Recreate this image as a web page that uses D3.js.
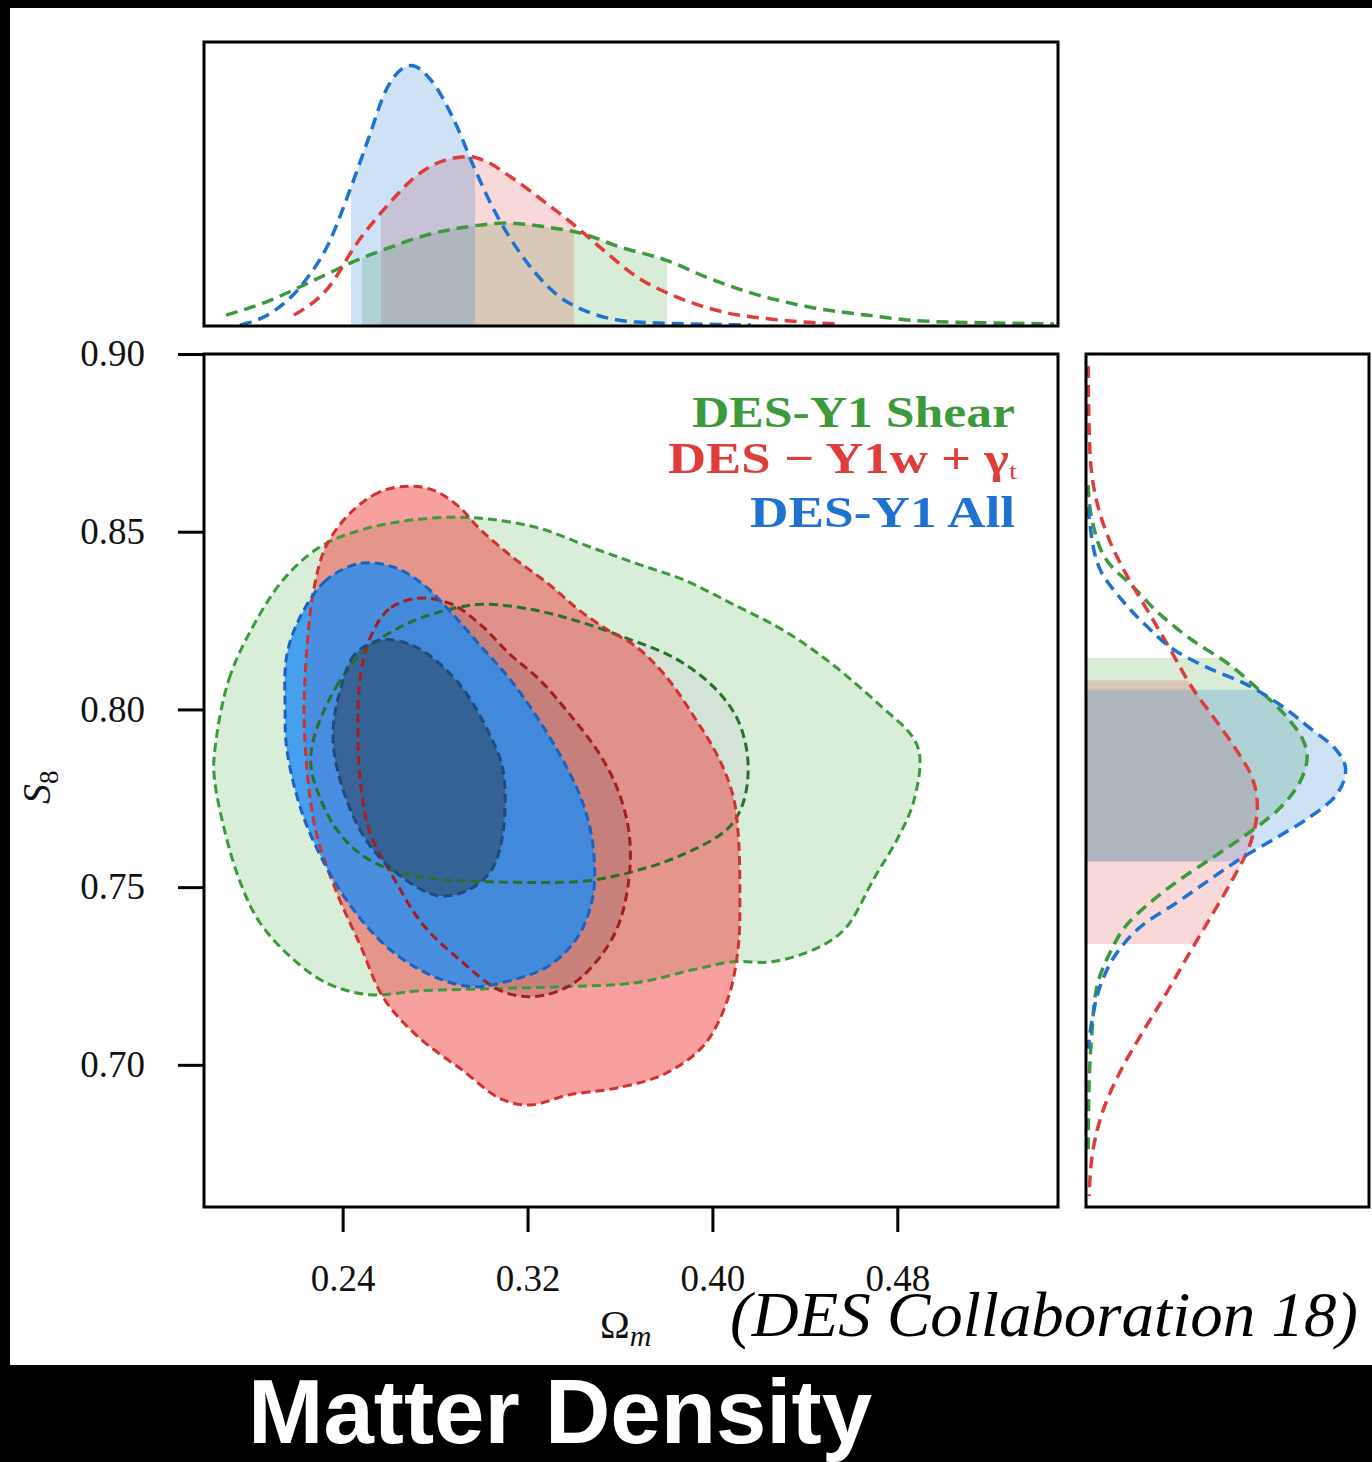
<!DOCTYPE html>
<html>
<head>
<meta charset="utf-8">
<script src="https://cdn.jsdelivr.net/npm/d3@7"></script>
<style>
body { margin: 0; background: #000; }
svg { display: block; }
</style>
</head>
<body>
<div id="chart"></div>
<script>
// ---- data ----
var omegaTicks = [0.24, 0.32, 0.40, 0.48];
var s8Ticks = [0.70, 0.75, 0.80, 0.85, 0.90];
var seriesNames = ["DES-Y1 Shear", "DES \u2212 Y1w + \u03b3", "DES-Y1 All"];

// 2D contours, [Omega_m, S8]
var shearOuter = [[0.1845,0.7874],[0.1908,0.8085],[0.2034,0.8259],[0.2159,0.8377],[0.2306,0.8459],[0.2475,0.8504],[0.2665,0.853],[0.2873,0.8541],[0.3042,0.8535],[0.325,0.851],[0.3462,0.8459],[0.3669,0.8411],[0.3881,0.8363],[0.4089,0.8296],[0.4301,0.8225],[0.4509,0.8132],[0.4721,0.8014],[0.4868,0.7921],[0.4898,0.7862],[0.4868,0.7735],[0.4803,0.7639],[0.4699,0.7524],[0.4574,0.7383],[0.4448,0.7327],[0.4258,0.729],[0.4089,0.729],[0.392,0.7268],[0.3669,0.7231],[0.3358,0.722],[0.3042,0.7214],[0.2726,0.7208],[0.2518,0.7197],[0.2328,0.7231],[0.2159,0.7313],[0.2034,0.7408],[0.1951,0.7524],[0.1887,0.7665],[0.1845,0.7806]];
var shearInner = [[0.2276,0.7921],[0.2371,0.8062],[0.2497,0.8166],[0.2665,0.8237],[0.283,0.8276],[0.2999,0.8296],[0.3211,0.8282],[0.3418,0.8248],[0.363,0.82],[0.3838,0.8144],[0.4007,0.8062],[0.4111,0.7969],[0.4154,0.7851],[0.4132,0.7735],[0.4067,0.7665],[0.3881,0.7594],[0.3669,0.7546],[0.3462,0.7518],[0.325,0.7513],[0.2999,0.7516],[0.2791,0.7524],[0.2622,0.7546],[0.2475,0.7594],[0.2371,0.7665],[0.2298,0.7758],[0.2263,0.7839]];
var wtOuter = [[0.2683,0.8628],[0.2557,0.8611],[0.2432,0.8552],[0.2328,0.8459],[0.2276,0.8341],[0.2246,0.8177],[0.2233,0.8003],[0.2246,0.7828],[0.2285,0.7654],[0.2371,0.749],[0.2475,0.7338],[0.2579,0.7186],[0.2726,0.7079],[0.2916,0.6986],[0.3085,0.6904],[0.3211,0.6887],[0.3375,0.6915],[0.3587,0.6935],[0.3795,0.6975],[0.3964,0.7056],[0.4067,0.7186],[0.4111,0.7327],[0.4119,0.7476],[0.4111,0.7654],[0.4089,0.7758],[0.4028,0.7862],[0.392,0.798],[0.3795,0.8096],[0.3669,0.8177],[0.3544,0.8225],[0.3418,0.8282],[0.3293,0.8352],[0.3146,0.8423],[0.2999,0.8504],[0.2895,0.8575],[0.2791,0.8617]];
var wtInner = [[0.2726,0.8313],[0.26,0.8282],[0.2518,0.82],[0.2475,0.8085],[0.2466,0.7944],[0.2475,0.7803],[0.2518,0.7654],[0.2622,0.7524],[0.2748,0.7394],[0.2916,0.729],[0.3085,0.7208],[0.3228,0.7192],[0.3375,0.722],[0.3483,0.7279],[0.3587,0.7383],[0.3639,0.7524],[0.3639,0.7654],[0.3587,0.778],[0.3501,0.7885],[0.3375,0.7992],[0.325,0.8085],[0.3124,0.8155],[0.2999,0.8237],[0.2873,0.8296]];
var allOuter = [[0.2475,0.8411],[0.2328,0.8363],[0.2224,0.827],[0.2159,0.8155],[0.2151,0.8003],[0.2159,0.7885],[0.2224,0.771],[0.2328,0.7558],[0.2453,0.7431],[0.26,0.7327],[0.2769,0.7256],[0.2955,0.722],[0.3124,0.7237],[0.3293,0.7279],[0.3418,0.7361],[0.3483,0.7476],[0.3483,0.7617],[0.344,0.7735],[0.3358,0.7851],[0.325,0.7969],[0.3124,0.8085],[0.2999,0.8177],[0.2873,0.827],[0.2748,0.8352],[0.2622,0.84]];
var allInner = [[0.2557,0.8194],[0.2453,0.8155],[0.2393,0.8062],[0.2358,0.7921],[0.241,0.7758],[0.2518,0.7617],[0.2665,0.7524],[0.2813,0.7476],[0.2938,0.749],[0.3042,0.7546],[0.3094,0.7654],[0.3094,0.7828],[0.3042,0.7921],[0.2916,0.8062],[0.2769,0.8155],[0.2665,0.8189]];

// 1D marginals in Omega_m, [Omega_m, density]
var shearOm = [[0.1895,0.042],[0.2068,0.092],[0.2215,0.15],[0.2341,0.203],[0.2462,0.253],[0.2609,0.303],[0.2761,0.349],[0.2934,0.38],[0.3107,0.395],[0.328,0.38],[0.3427,0.357],[0.36,0.303],[0.3799,0.253],[0.3972,0.188],[0.4167,0.127],[0.4418,0.073],[0.4665,0.042],[0.4911,0.019],[0.5205,0.012],[0.5478,0.008]];
var wtOm = [[0.2189,0.042],[0.2341,0.15],[0.2462,0.318],[0.2588,0.457],[0.2735,0.587],[0.2882,0.645],[0.2951,0.65],[0.3007,0.637],[0.3128,0.572],[0.328,0.472],[0.3401,0.388],[0.3527,0.292],[0.3674,0.188],[0.3847,0.111],[0.4046,0.054],[0.4292,0.023],[0.4539,0.008]];
var allOm = [[0.1956,0.004],[0.209,0.05],[0.223,0.165],[0.234,0.318],[0.2436,0.533],[0.2514,0.725],[0.2588,0.906],[0.2696,1.0],[0.2782,0.944],[0.2882,0.79],[0.2968,0.61],[0.3055,0.445],[0.318,0.265],[0.338,0.088],[0.3674,0.015],[0.4167,0.004]];

// 1D marginals in S8, [S8, density]
var shearS8 = [[0.8631,0.008],[0.8521,0.027],[0.8408,0.092],[0.8346,0.18],[0.8268,0.284],[0.8194,0.411],[0.8132,0.541],[0.8054,0.668],[0.798,0.772],[0.7918,0.833],[0.787,0.852],[0.7792,0.821],[0.7713,0.733],[0.7648,0.618],[0.7583,0.488],[0.7521,0.361],[0.7456,0.246],[0.7394,0.157],[0.7315,0.092],[0.722,0.042],[0.7093,0.023],[0.6949,0.012],[0.6744,0.008]];
var wtS8 = [[0.8966,0.008],[0.8727,0.015],[0.8583,0.042],[0.8473,0.092],[0.8377,0.157],[0.8282,0.234],[0.8172,0.322],[0.8059,0.411],[0.7966,0.503],[0.7885,0.58],[0.7806,0.641],[0.7727,0.66],[0.7617,0.63],[0.7521,0.564],[0.7425,0.488],[0.7315,0.399],[0.7203,0.311],[0.7093,0.219],[0.698,0.131],[0.687,0.065],[0.676,0.027],[0.6631,0.012]];
var allS8 = [[0.8569,0.008],[0.8521,0.015],[0.8394,0.054],[0.8315,0.13],[0.8234,0.234],[0.8163,0.349],[0.8115,0.476],[0.8076,0.602],[0.802,0.733],[0.7949,0.86],[0.7887,0.963],[0.7831,1.0],[0.7758,0.963],[0.7696,0.86],[0.7639,0.733],[0.7583,0.602],[0.7521,0.476],[0.7456,0.349],[0.7394,0.219],[0.7315,0.119],[0.722,0.054],[0.7124,0.023],[0.7045,0.008]];

// 68% intervals shaded in the marginals
var shearOmRange = [0.2484, 0.3803];
var wtOmRange = [0.2566, 0.3401];
var allOmRange = [0.2436, 0.2973];
var shearS8Range = [0.7572, 0.8145];
var wtS8Range = [0.7340, 0.8082];
var allS8Range = [0.7572, 0.8055];

// ---- layout ----
var W = 1372, H = 1462;
var main = {left: 204, right: 1058, top: 354, bottom: 1207};
var topP = {left: 204, right: 1058, top: 42, bottom: 326};
var sideP = {left: 1086, right: 1369, top: 354, bottom: 1207};

var green = "#3c9a3c", red = "#e03c3c", blue = "#1f72d2";

var svg = d3.select("#chart").append("svg")
    .attr("width", W)
    .attr("height", H);

svg.append("rect").attr("width", W).attr("height", H).attr("fill", "#000");
svg.append("rect").attr("x", 10).attr("y", 8).attr("width", W - 10).attr("height", 1357).attr("fill", "#fff");

var x = d3.scaleLinear().domain([0.18, 0.55]).range([main.left, main.left + 0.37 * 2311]);
var y = d3.scaleLinear().domain([0.66, 0.90]).range([main.bottom, main.top]);
var yTop = d3.scaleLinear().domain([0, 1.09]).range([topP.bottom, topP.top]);
var xSide = d3.scaleLinear().domain([0, 1.09]).range([sideP.left, sideP.right]);

var defs = svg.append("defs");
function clip(id, p) {
  defs.append("clipPath").attr("id", id).append("rect")
    .attr("x", p.left).attr("y", p.top)
    .attr("width", p.right - p.left).attr("height", p.bottom - p.top);
}
clip("clipMain", main);
clip("clipTop", topP);
clip("clipSide", sideP);

// ---- 2D contours ----
var contour = d3.line()
    .x(function(d) { return x(d[0]); })
    .y(function(d) { return y(d[1]); })
    .curve(d3.curveCatmullRomClosed.alpha(0.5));

var gMain = svg.append("g").attr("clip-path", "url(#clipMain)");

var layers = [
  {pts: shearOuter, fill: "rgba(60,170,60,0.2)",   stroke: "#3c9a3c"},
  {pts: shearInner, fill: "rgba(120,30,200,0.05)", stroke: "#27702a"},
  {pts: wtOuter,    fill: "rgba(240,60,60,0.49)",  stroke: "#d03232"},
  {pts: wtInner,    fill: "rgba(160,100,100,0.4)", stroke: "#a01f1f"},
  {pts: allOuter,   fill: "rgba(34,140,244,0.8)",  stroke: "#1c62bd"},
  {pts: allInner,   fill: "rgba(40,60,80,0.5)",    stroke: "#1f4b7c"}
];

gMain.selectAll("path.fill")
    .data(layers)
    .enter()
    .append("path")
        .attr("class", "fill")
        .attr("d", function(d) { return contour(d.pts); })
        .style("fill", function(d) { return d.fill; })
        .style("stroke", "none");

gMain.selectAll("path.edge")
    .data(layers)
    .enter()
    .append("path")
        .attr("class", "edge")
        .attr("d", function(d) { return contour(d.pts); })
        .style("fill", "none")
        .style("stroke", function(d) { return d.stroke; })
        .style("stroke-width", 3)
        .style("stroke-dasharray", "9,5");

// ---- top marginal (Omega_m) ----
var topLine = d3.line()
    .x(function(d) { return x(d[0]); })
    .y(function(d) { return yTop(d[1]); })
    .curve(d3.curveMonotoneX);
var topArea = d3.area()
    .x(function(d) { return x(d[0]); })
    .y0(yTop(0))
    .y1(function(d) { return yTop(d[1]); })
    .curve(d3.curveMonotoneX);

// fills drawn green, red, blue (blue on top)
var topSeries = [
  {pts: shearOm, range: shearOmRange, color: green, fill: "rgba(60,160,60,0.2)"},
  {pts: wtOm,    range: wtOmRange,    color: red,   fill: "rgba(220,60,60,0.2)"},
  {pts: allOm,   range: allOmRange,   color: blue,  fill: "rgba(30,120,210,0.22)"}
];

var gTop = svg.append("g").attr("clip-path", "url(#clipTop)");
topSeries.forEach(function(s, i) {
  var id = "topRange" + i;
  defs.append("clipPath").attr("id", id).append("rect")
    .attr("x", x(s.range[0])).attr("y", topP.top)
    .attr("width", x(s.range[1]) - x(s.range[0]))
    .attr("height", topP.bottom - topP.top);
  gTop.append("path")
    .attr("d", topArea(s.pts))
    .attr("clip-path", "url(#" + id + ")")
    .style("fill", s.fill);
});
topSeries.forEach(function(s) {
  gTop.append("path")
    .attr("d", topLine(s.pts))
    .style("fill", "none")
    .style("stroke", s.color)
    .style("stroke-width", 3.5)
    .style("stroke-dasharray", "12,7");
});

// ---- side marginal (S8) ----
var sideLine = d3.line()
    .x(function(d) { return xSide(d[1]); })
    .y(function(d) { return y(d[0]); })
    .curve(d3.curveMonotoneY);
var sideArea = d3.area()
    .y(function(d) { return y(d[0]); })
    .x0(xSide(0))
    .x1(function(d) { return xSide(d[1]); })
    .curve(d3.curveMonotoneY);

var sideSeries = [
  {pts: shearS8, range: shearS8Range, color: green, fill: "rgba(60,160,60,0.2)"},
  {pts: wtS8,    range: wtS8Range,    color: red,   fill: "rgba(220,60,60,0.2)"},
  {pts: allS8,   range: allS8Range,   color: blue,  fill: "rgba(30,120,210,0.22)"}
];

var gSide = svg.append("g").attr("clip-path", "url(#clipSide)");
sideSeries.forEach(function(s, i) {
  var id = "sideRange" + i;
  defs.append("clipPath").attr("id", id).append("rect")
    .attr("x", sideP.left).attr("y", y(s.range[1]))
    .attr("width", sideP.right - sideP.left)
    .attr("height", y(s.range[0]) - y(s.range[1]));
  gSide.append("path")
    .attr("d", sideArea(s.pts))
    .attr("clip-path", "url(#" + id + ")")
    .style("fill", s.fill);
});
sideSeries.forEach(function(s) {
  gSide.append("path")
    .attr("d", sideLine(s.pts))
    .style("fill", "none")
    .style("stroke", s.color)
    .style("stroke-width", 3.5)
    .style("stroke-dasharray", "12,7");
});

// ---- frames ----
[main, topP, sideP].forEach(function(p) {
  svg.append("rect")
    .attr("x", p.left).attr("y", p.top)
    .attr("width", p.right - p.left).attr("height", p.bottom - p.top)
    .style("fill", "none").style("stroke", "#000").style("stroke-width", 3);
});

// ---- axes ----
var tickFont = "'Liberation Serif', 'DejaVu Serif', serif";

var yAxis = svg.append("g")
    .attr("transform", "translate(" + main.left + ",0)")
    .call(d3.axisLeft(y).tickValues(s8Ticks).tickFormat(d3.format(".2f")).tickSize(26).tickPadding(33));
var xAxis = svg.append("g")
    .attr("transform", "translate(0," + main.bottom + ")")
    .call(d3.axisBottom(x).tickValues(omegaTicks).tickFormat(d3.format(".2f")).tickSize(25).tickPadding(33));

[yAxis, xAxis].forEach(function(a) {
  a.select(".domain").remove();
  a.selectAll(".tick line").style("stroke", "#000").style("stroke-width", 3);
  a.selectAll(".tick text")
    .style("font-family", tickFont)
    .style("font-size", "37px")
    .style("fill", "#111");
});

// axis titles
var xTitle = svg.append("text")
    .attr("x", 600).attr("y", 1338)
    .style("font-family", tickFont).style("font-size", "40px").style("fill", "#111");
xTitle.append("tspan").text("\u03a9");
xTitle.append("tspan").attr("dy", 8).style("font-size", "30px").style("font-style", "italic").text("m");

var yTitle = svg.append("text")
    .attr("transform", "translate(50,804) rotate(-90)")
    .style("font-family", tickFont).style("font-size", "40px").style("fill", "#111");
yTitle.append("tspan").style("font-style", "italic").text("S");
yTitle.append("tspan").attr("dy", 8).style("font-size", "27px").text("8");

// ---- legend ----
var legendFont = "'Liberation Serif', 'DejaVu Serif', serif";
var legendRows = [
  {name: seriesNames[0], color: green, x: 692, y: 427, len: 323, sub: null},
  {name: seriesNames[1], color: red,   x: 668, y: 473, len: 349, sub: "t"},
  {name: seriesNames[2], color: blue,  x: 750, y: 527, len: 265, sub: null}
];
legendRows.forEach(function(r) {
  var t = svg.append("text")
    .attr("x", r.x).attr("y", r.y)
    .attr("textLength", r.len)
    .attr("lengthAdjust", "spacingAndGlyphs")
    .style("font-family", legendFont)
    .style("font-weight", "bold")
    .style("font-size", "44px")
    .style("fill", r.color);
  t.append("tspan").text(r.name);
  if (r.sub) {
    t.append("tspan").attr("dy", 6).style("font-size", "24px").style("font-weight", "normal").text(r.sub);
  }
});

// ---- citation and caption ----
svg.append("text")
    .attr("x", 730).attr("y", 1336)
    .attr("textLength", 628)
    .attr("lengthAdjust", "spacingAndGlyphs")
    .style("font-family", "'Liberation Serif', serif")
    .style("font-style", "italic")
    .style("font-size", "64px")
    .style("fill", "#000")
    .text("(DES Collaboration 18)");

svg.append("text")
    .attr("x", 248).attr("y", 1443)
    .attr("textLength", 624)
    .attr("lengthAdjust", "spacingAndGlyphs")
    .style("font-family", "'Liberation Sans', Arial, sans-serif")
    .style("font-weight", "bold")
    .style("font-size", "90px")
    .style("fill", "#fff")
    .text("Matter Density");
</script>
</body>
</html>
